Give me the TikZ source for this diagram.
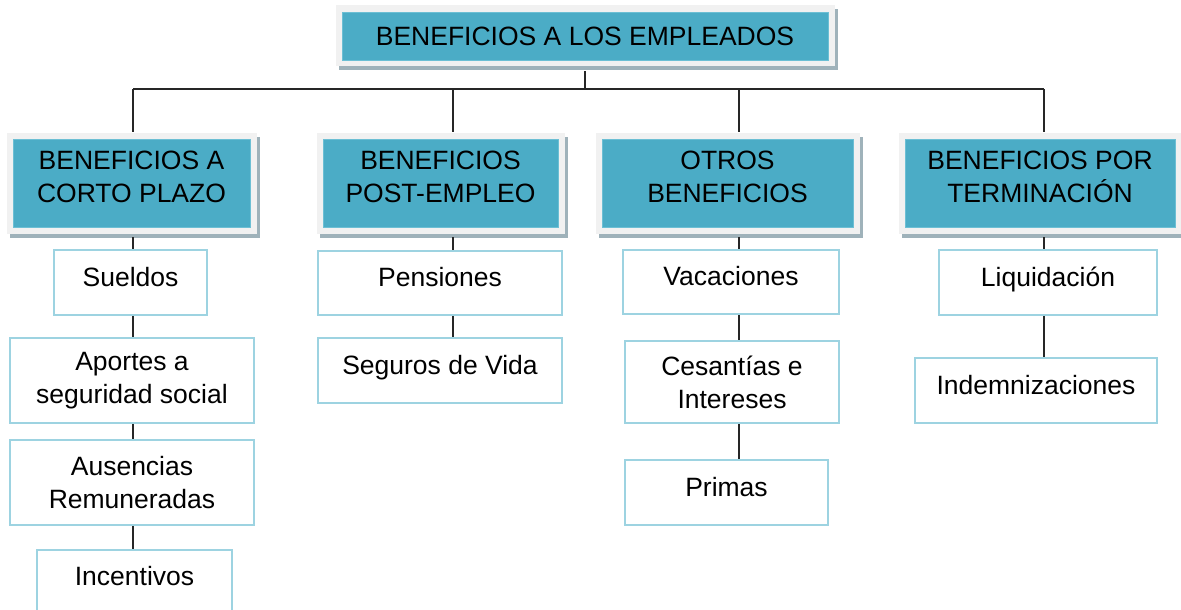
\documentclass[tikz,border=0pt]{standalone}
\usepackage{fontspec}
\setmainfont{Liberation Sans}
\definecolor{headfill}{HTML}{4BACC6}
\definecolor{headedge}{HTML}{6CBFD4}
\definecolor{framegray}{HTML}{F1F1F1}
\definecolor{shadowgray}{HTML}{9FB2BA}
\definecolor{leafedge}{HTML}{9DD3E1}

\begin{document}
\begin{tikzpicture}[x=1pt, y=-1pt,
  head/.style = {fill=headfill, draw=headedge, line width=0.8pt, align=center, inner sep=0pt,
    preaction={draw=shadowgray, line width=13pt, transform canvas={xshift=3pt, yshift=-4pt}},
    preaction={draw=framegray, line width=13pt}},
  leaf/.style = {draw=leafedge, line width=1.5pt, fill=white, align=center, inner sep=0pt},
  lift/.style = {text depth=12pt},
  link/.style = {draw=black!85, line width=1.5pt},
  every node/.style = {font=\fontsize{26.5}{33}\selectfont}]
\useasboundingbox (0,0) rectangle (1181,610);

\node[head, minimum width=486pt, minimum height=48pt] (0) at (585,36) {BENEFICIOS A LOS EMPLEADOS};

\node[head, lift, minimum width=237pt, minimum height=88pt] (1) at (131.5,183) {BENEFICIOS A\\CORTO PLAZO};
\node[head, lift, minimum width=235pt, minimum height=88pt] (2) at (440.5,183) {BENEFICIOS\\POST-EMPLEO};
\node[head, lift, minimum width=251pt, minimum height=88pt] (3) at (727.5,183) {OTROS\\BENEFICIOS};
\node[head, lift, minimum width=270pt, minimum height=88pt] (4) at (1040,183) {BENEFICIOS POR\\TERMINACIÓN};

\node[leaf, lift, minimum width=153pt, minimum height=65pt] (1a) at (130.5,282.5) {Sueldos};
\node[leaf, minimum width=244pt, minimum height=85pt] (1b) at (132,380.5) {Aportes a\\seguridad social};
\node[leaf, minimum width=244pt, minimum height=85pt] (1c) at (132,482.5) {Ausencias\\Remuneradas};
\node[leaf, lift, minimum width=195pt, minimum height=64pt] (1d) at (134.5,582) {Incentivos};

\node[leaf, lift, minimum width=244pt, minimum height=64pt] (2a) at (440,283) {Pensiones};
\node[leaf, lift, minimum width=244pt, minimum height=65pt] (2b) at (440,370.5) {Seguros de Vida};

\node[leaf, lift, minimum width=216pt, minimum height=64pt] (3a) at (731,282) {Vacaciones};
\node[leaf, minimum width=214pt, minimum height=82pt] (3b) at (732,382) {Cesantías e\\Intereses};
\node[leaf, lift, minimum width=203pt, minimum height=65pt] (3c) at (726.5,492.5) {Primas};

\node[leaf, lift, minimum width=218pt, minimum height=65pt] (4a) at (1048,282.5) {Liquidación};
\node[leaf, lift, minimum width=242pt, minimum height=65pt] (4b) at (1036,390.5) {Indemnizaciones};

\coordinate (c1) at (133,89);
\coordinate (c2) at (453,89);
\coordinate (c3) at (739,89);
\coordinate (c4) at (1044,89);

\draw[link, shorten <=11pt] (0.south) -- (0.south |- c1);
\draw[link] (c1) -- (c4);
\foreach \i in {1,...,4}
  \draw[link, shorten >=6.5pt] (c\i) -- (c\i |- \i.north);

\draw[link, shorten <=10pt] (c1 |- 1.south) -- (c1 |- 1a.north);
\draw[link] (c1 |- 1a.south) -- (c1 |- 1b.north);
\draw[link] (c1 |- 1b.south) -- (c1 |- 1c.north);
\draw[link] (c1 |- 1c.south) -- (c1 |- 1d.north);

\draw[link, shorten <=10pt] (c2 |- 2.south) -- (c2 |- 2a.north);
\draw[link] (c2 |- 2a.south) -- (c2 |- 2b.north);

\draw[link, shorten <=10pt] (c3 |- 3.south) -- (c3 |- 3a.north);
\draw[link] (c3 |- 3a.south) -- (c3 |- 3b.north);
\draw[link] (c3 |- 3b.south) -- (c3 |- 3c.north);

\draw[link, shorten <=10pt] (c4 |- 4.south) -- (c4 |- 4a.north);
\draw[link] (c4 |- 4a.south) -- (c4 |- 4b.north);

\end{tikzpicture}
\end{document}
